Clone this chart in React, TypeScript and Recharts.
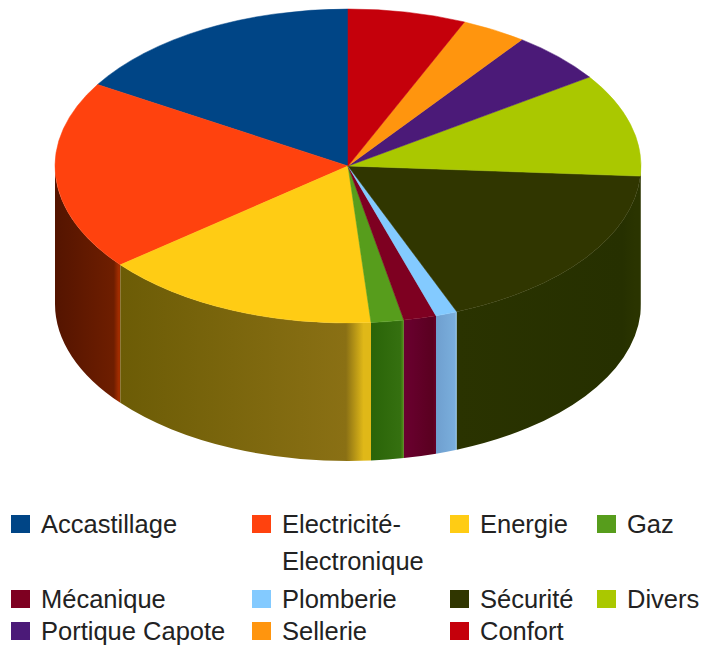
import { PieChart, Pie, Legend } from 'recharts'

const categories = [
  'Accastillage',
  'Electricité-Electronique',
  'Energie',
  'Gaz',
  'Mécanique',
  'Plomberie',
  'Sécurité',
  'Divers',
  'Portique Capote',
  'Sellerie',
  'Confort',
]
const shares = [16.3, 19.5, 15.4, 1.8, 1.8, 1.2, 17.9, 10.6, 5.3, 3.6, 6.5]
const topColors = [
  '#004586', '#ff420e', '#ffcc14', '#579d1c', '#7e0021', '#83caff',
  '#303600', '#aac800', '#4b1a78', '#ff950e', '#c5000b',
]
// wall shading, left to right, last one is the light edge of the slice
const wallColors = [
  ['#002a52', '#002a52', '#002a52'],
  ['#541400', '#6e1e00', '#a02c00'],
  ['#6c5c06', '#8a7014', '#e0b818'],
  ['#2a6408', '#357010', '#4a8a14'],
  ['#6a0030', '#5a0020', '#640026'],
  ['#6f9fcf', '#7aaedc', '#8cc0e8'],
  ['#2a3300', '#263000', '#2a3400'],
  ['#2a3300', '#2a3300', '#2a3300'],
  ['#2d1343', '#2d1343', '#2d1343'],
  ['#995908', '#995908', '#995908'],
  ['#760006', '#760006', '#760006'],
]

const data = categories.map((name, i) => ({ name, value: shares[i], fill: topColors[i] }))

const SQUASH = 157 / 293
const DEPTH = 138

const point = (cx: number, cy: number, r: number, angle: number) => {
  const rad = (angle * Math.PI) / 180
  return [cx + r * Math.cos(rad), cy - r * SQUASH * Math.sin(rad)]
}

const TopSlice = (props: any) => {
  const { cx, cy, outerRadius: r, startAngle, endAngle, fill } = props
  const [x0, y0] = point(cx, cy, r, startAngle)
  const [x1, y1] = point(cx, cy, r, endAngle)
  const large = endAngle - startAngle > 180 ? 1 : 0
  return (
    <path
      d={`M${cx},${cy}L${x0},${y0}A${r},${r * SQUASH} 0 ${large} 0 ${x1},${y1}Z`}
      fill={fill}
      stroke={fill}
      strokeWidth={0.5}
    />
  )
}

const WallSlice = (props: any) => {
  const { cx, cy, outerRadius: r, startAngle, endAngle, index } = props
  // only the front half of the rim is visible
  const a0 = Math.max(startAngle, 180)
  const a1 = Math.min(endAngle, 360)
  if (a0 >= a1) return <g />
  const [x0, y0] = point(cx, cy, r, a0)
  const [x1, y1] = point(cx, cy, r, a1)
  const ry = r * SQUASH
  const id = `wall-${index}`
  const [c0, c1, c2] = wallColors[index]
  return (
    <g>
      <defs>
        <linearGradient id={id} x1="0" y1="0" x2="1" y2="0">
          <stop offset="0" stopColor={c0} />
          <stop offset="0.9" stopColor={c1} />
          <stop offset="0.97" stopColor={c2} />
          <stop offset="1" stopColor={c2} />
        </linearGradient>
      </defs>
      <path
        d={`M${x0},${y0}A${r},${ry} 0 0 0 ${x1},${y1}L${x1},${y1 + DEPTH}A${r},${ry} 0 0 1 ${x0},${y0 + DEPTH}Z`}
        fill={`url(#${id})`}
      />
    </g>
  )
}

// two pies feed the legend, so the entries come straight from the arrays
const LegendGrid = () => (
  <div
    style={{
      display: 'grid',
      gridTemplateColumns: '241px 198px 147px 105px',
      gridTemplateRows: '75px 32px 32px',
      fontFamily: '"Liberation Sans", sans-serif',
      fontSize: 25.5,
      lineHeight: '37px',
      color: '#222',
    }}
  >
    {categories.map((name, i) => (
      <div key={name} style={{ display: 'flex', alignItems: 'flex-start' }}>
        <span
          style={{
            flex: '0 0 19px',
            height: 18,
            marginTop: 9,
            marginRight: 11,
            background: topColors[i],
          }}
        />
        <span>{name}</span>
      </div>
    ))}
  </div>
)

const App = () => {
  return (
    <div style={{ position: 'absolute', left: 0, top: 0, width: 702, height: 655 }}>
      <PieChart width={702} height={655} margin={{ top: 0, right: 0, bottom: 0, left: 0 }}>
        <Pie
          data={data}
          dataKey="value"
          nameKey="name"
          cx={348}
          cy={166}
          outerRadius={293}
          startAngle={90}
          endAngle={450}
          legendType="none"
          shape={WallSlice}
          isAnimationActive={false}
        />
        <Pie
          data={data}
          dataKey="value"
          nameKey="name"
          cx={348}
          cy={166}
          outerRadius={293}
          startAngle={90}
          endAngle={450}
          shape={TopSlice}
          isAnimationActive={false}
        />
        <Legend
          content={LegendGrid}
          wrapperStyle={{ position: 'absolute', left: 11, top: 506, width: 691, bottom: 'auto' }}
        />
      </PieChart>
    </div>
  )
}

export default App
